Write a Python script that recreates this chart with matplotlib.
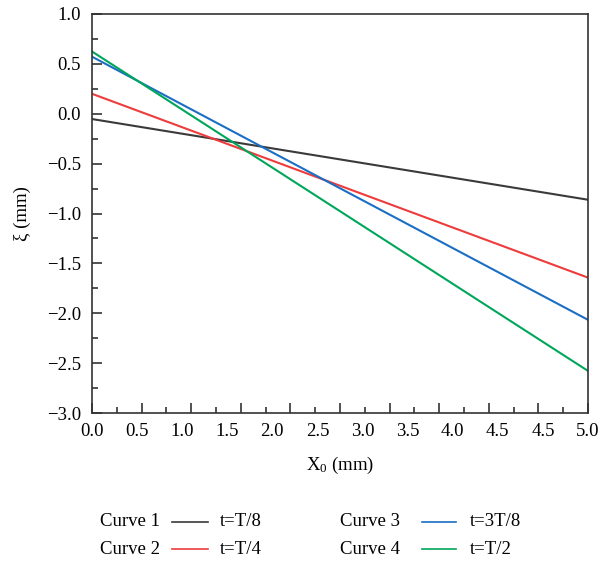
import numpy as np
import matplotlib
matplotlib.use("Agg")
import matplotlib.pyplot as plt
from matplotlib.lines import Line2D

# ---- data ----
x_vals = [0.0, 5.0]
curve1 = [-0.053, -0.862]
curve2 = [0.200, -1.643]
curve3 = [0.572, -2.066]
curve4 = [0.624, -2.578]
series = [curve1, curve2, curve3, curve4]
curve_names = ["Curve 1", "Curve 2", "Curve 3", "Curve 4"]
time_labels = ["t=T/8", "t=T/4", "t=3T/8", "t=T/2"]
colors = ["#3a3a3a", "#ee3b3b", "#1a6ec4", "#00a65a"]
x_tick_labels = ["0.0", "0.5", "1.0", "1.5", "2.0", "2.5", "3.0", "3.5",
                 "4.0", "4.5", "4.5", "5.0"]
y_ticks = [1.0, 0.5, 0.0, -0.5, -1.0, -1.5, -2.0, -2.5, -3.0]

plt.rcParams['font.family'] = ['Liberation Serif', 'DejaVu Serif']
plt.rcParams['mathtext.fontset'] = 'custom'
plt.rcParams['mathtext.rm'] = 'Liberation Serif'
plt.rcParams['mathtext.it'] = 'Liberation Serif:italic'

fig = plt.figure(figsize=(6.14, 5.63), dpi=100)
ax = fig.add_axes([92/614, 1-413/563, (588-92)/614, (413-14)/563])

for s, c in zip(series, colors):
    ax.plot(x_vals, s, color=c, lw=1.5)

ax.set_xlim(0, 5)
ax.set_ylim(-3, 1)
for sp in ax.spines.values():
    sp.set_linewidth(1.2)
    sp.set_color('#333333')

ax.set_xticks(np.arange(0, 5.01, 0.5))
ax.set_xticks(np.arange(0.25, 5, 0.5), minor=True)
ax.set_xticklabels([])
ax.set_yticks(y_ticks)
ax.set_yticks(np.arange(-2.75, 1, 0.5), minor=True)
ax.set_yticklabels([f"{v:.1f}".replace("-", "\u2212") for v in y_ticks])
ax.tick_params(which='major', direction='in', length=7, width=1.2, labelsize=13.5,
               color='#333333', pad=8)
ax.tick_params(which='minor', direction='in', length=4, width=1.2, color='#333333')

sec = ax.secondary_xaxis('bottom')
sec.spines['bottom'].set_visible(False)
sec.set_xticks(np.linspace(0, 5, len(x_tick_labels)))
sec.set_xticklabels(x_tick_labels)
sec.tick_params(length=0, labelsize=13.5, pad=7)

ax.set_ylabel("ξ (mm)", fontsize=13.5, labelpad=11)
ax.set_xlabel(r"X$_\mathrm{0}$ (mm)", fontsize=13.5, labelpad=22)

# ---- legend (manual, two columns) ----
col_x = [(100, 172, 208, 220), (340, 422, 456, 470)]
for i, (name, tl, c) in enumerate(zip(curve_names, time_labels, colors)):
    col = i // 2
    row = i % 2
    tx, l0, l1, tx2 = col_x[col]
    yf = 1 - (522 + 27*row)/563
    fig.text(tx/614, yf, name, fontsize=13.5, va='center', ha='left')
    fig.add_artist(Line2D([l0/614, l1/614], [yf, yf], color=c, lw=1.2,
                          transform=fig.transFigure))
    fig.text(tx2/614, yf, tl, fontsize=13.5, va='center', ha='left')

fig.savefig("out.png", dpi=100)
